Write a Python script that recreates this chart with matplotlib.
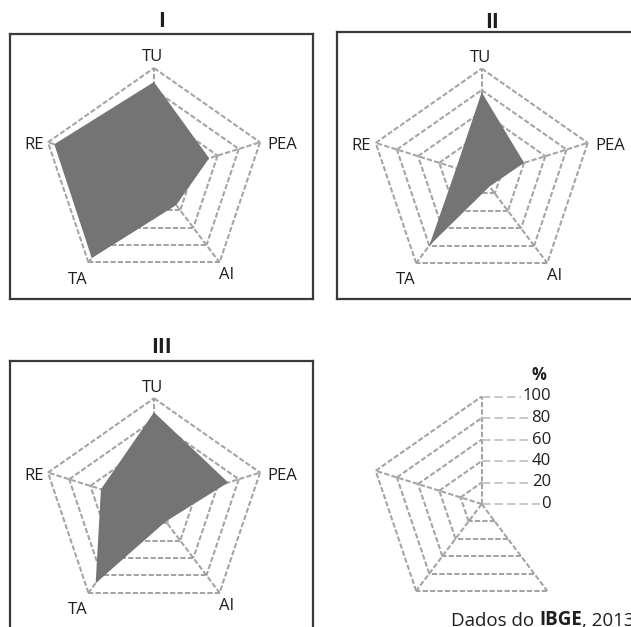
import numpy as np
import matplotlib.pyplot as plt

plt.rcParams['font.family'] = ['Open Sans', 'DejaVu Sans']

# radar data (percent)
axis_names = ['TU', 'PEA', 'AI', 'TA', 'RE']
levels = [0, 20, 40, 60, 80, 100]
chart_I = [87, 52, 34, 95, 94]
chart_II = [78, 40, 12, 80, 24]
chart_III = [87, 70, 18, 89, 50]
titles = ['I', 'II', 'III']

W, H = 631, 627
fig = plt.figure(figsize=(W / 100, H / 100), dpi=100)

SX, SY = 111.5, 107.5          # pixels per unit radius (x is a bit stretched)
ang = np.deg2rad(90 - 72 * np.arange(5))
ux, uy = np.cos(ang), np.sin(ang)

grid_kw = dict(color='#a3a3a3', lw=1.45, ls=(0, (2.6, 1.1)), zorder=1)
fill_col = '#747474'
frame_col = '#3a3a3a'
txt_col = '#1e1e1e'

# label positions in radius units
lab_pos = {'TU': (-0.01, 1.10, 'center'), 'PEA': (1.02, 0.28, 'left'),
           'AI': (0.65, -0.93, 'center'), 'TA': (-0.68, -0.97, 'center'),
           'RE': (-0.99, 0.28, 'right')}


def make_panel(box, center, frame=True):
    left, top, right, bottom = box
    cx, cy = center
    ax = fig.add_axes([left / W, 1 - bottom / H, (right - left) / W, (bottom - top) / H])
    ax.set_xlim((left - cx) / SX, (right - cx) / SX)
    ax.set_ylim((cy - bottom) / SY, (cy - top) / SY)
    ax.set_xticks([])
    ax.set_yticks([])
    for s in ax.spines.values():
        s.set_visible(frame)
        s.set_color(frame_col)
        s.set_linewidth(1.6)
    ax.patch.set_alpha(0)
    return ax


def draw_grid(ax, edges, spokes):
    for lv in levels[1:]:
        r = lv / 100
        for i, j in edges:
            ax.plot([ux[i] * r, ux[j] * r], [uy[i] * r, uy[j] * r], **grid_kw)
    for i in spokes:
        ax.plot([0, ux[i]], [0, uy[i]], **grid_kw)


all_edges = [(i, (i + 1) % 5) for i in range(5)]

boxes = [(10, 34, 313, 299), (337, 32, 646, 299), (10, 361, 313, 700)]
centers = [(154, 175.5), (481.7, 176.1), (154, 505.8)]
title_pos = [(162, 27), (491.7, 27.5), (161.7, 353)]

for vals, box, c, t, tp in zip([chart_I, chart_II, chart_III], boxes, centers, titles, title_pos):
    ax = make_panel(box, c)
    draw_grid(ax, all_edges, range(5))
    r = np.array(vals) / 100
    ax.fill(ux * r, uy * r, color=fill_col, lw=0, zorder=2)
    for name in axis_names:
        x, y, ha = lab_pos[name]
        ax.text(x, y, name, ha=ha, va='center', fontsize=12, color=txt_col)
    fig.text(tp[0] / W, 1 - tp[1] / H, t, ha='center', va='baseline',
             fontsize=15, fontweight='bold', color=txt_col)

# scale legend panel (half radar)
leg = make_panel((337, 361, 646, 700), (481.7, 504), frame=False)
draw_grid(leg, [(2, 3), (3, 4), (4, 0)], [0, 2, 3, 4])
lab_x = 0.62
for lv in levels:
    leg.plot([0, lab_x - 0.05], [lv / 100, lv / 100], color='#bdbdbd', lw=1.2,
             ls=(0, (5, 2.5)), zorder=1)
    leg.text(lab_x, lv / 100, str(lv), ha='right', va='center', fontsize=12,
             color=txt_col, zorder=3,
             bbox=dict(facecolor='white', edgecolor='none', pad=0.6))
leg.text(0.51, 1.2, '%', ha='center', va='center', fontsize=12,
         fontweight='bold', color=txt_col)

# source note (runs off the right edge, as in the reference)
t1 = fig.text(451 / W, 1 - 626 / H, 'Dados do ', fontsize=13.5, va='baseline',
              color=txt_col)
t2 = plt.annotate('IBGE', xy=(1, 0), xycoords=t1, va='bottom', fontsize=13.5,
                  fontweight='bold', color=txt_col)
plt.annotate(', 2013', xy=(1, 0), xycoords=t2, va='bottom', fontsize=13.5,
             color=txt_col)

fig.savefig('out.png', dpi=100)
